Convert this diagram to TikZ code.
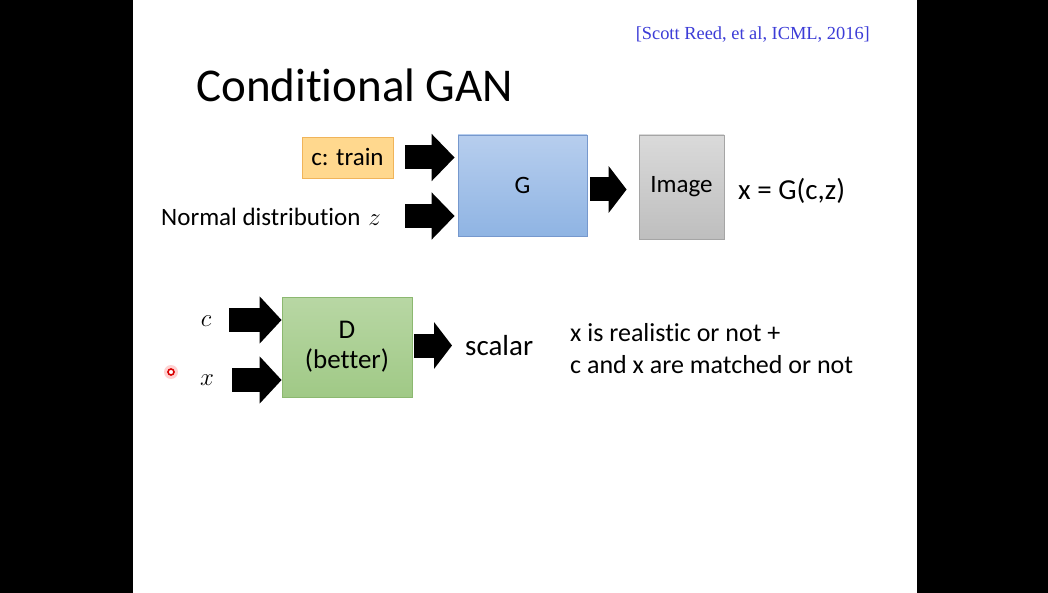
\documentclass[tikz,border=0pt]{standalone}
\usepackage{fontspec}
\setmainfont{Carlito}[Ligatures=NoCommon]
\newfontfamily\citefont{Liberation Serif}
\usetikzlibrary{arrows.meta}
\definecolor{g top}{RGB}{183,206,238}
\definecolor{g bottom}{RGB}{143,180,227}
\definecolor{g edge}{RGB}{118,152,205}
\definecolor{img top}{RGB}{218,218,218}
\definecolor{img bottom}{RGB}{190,190,190}
\definecolor{img edge}{RGB}{165,165,165}
\definecolor{d top}{RGB}{184,215,164}
\definecolor{d bottom}{RGB}{160,201,134}
\definecolor{d edge}{RGB}{140,184,112}
\definecolor{cond fill}{RGB}{255,216,142}
\definecolor{cond edge}{RGB}{240,180,90}
\definecolor{cite blue}{RGB}{60,60,215}
\tikzset{
  fatarrow/.style={line width=24pt, -{Triangle[length=#1, width=46pt]}},
  fatarrow/.default=22pt,
  txt/.style={inner sep=0pt, font=\fontsize{25}{30}\selectfont},
  bigtxt/.style={inner sep=0pt, font=\fontsize{29}{32}\selectfont},
  block/.style={txt, align=center, line width=0.8pt},
  condbox/.style={block, draw=cond edge, fill=cond fill, minimum width=91pt, minimum height=41pt},
  gbox/.style={block, draw=g edge, top color=g top, bottom color=g bottom, minimum width=129pt, minimum height=101pt},
  imgbox/.style={block, draw=img edge, top color=img top, bottom color=img bottom, minimum width=85pt, minimum height=104pt},
  dbox/.style={block, draw=d edge, top color=d top, bottom color=d bottom, minimum width=130pt, minimum height=100pt, font=\fontsize{27}{30}\selectfont}
}

\begin{document}
\begin{tikzpicture}[x=1pt, y=-1pt]
  \useasboundingbox (0,0) rectangle (1048,593);
  \fill[black] (0,0) rectangle (1048,593);
  \fill[white] (133,0) rectangle (917,593);
  % title and reference
  \node[inner sep=0pt, anchor=base west, font=\fontsize{47}{50}\selectfont] (title) at (196,102) {Conditional GAN};
  \node[inner sep=0pt, anchor=base east, text=cite blue, font=\citefont\fontsize{18.4}{20}\selectfont] (cite) at (870,40) {[Scott Reed, et al, ICML, 2016]};
  % generator
  \node[condbox] (ctrain) at (347.5,157.5) {c: train};
  \node[txt, anchor=base west] (normal) at (161,226) {Normal distribution\hspace{8pt}$z$};
  \node[gbox] (G) at (522.5,185.5) {G};
  \node[imgbox] (image) at (681.5,187) {Image};
  \node[bigtxt, anchor=base west] (xeq) at (738,200) {x = G(c,z)};
  \coordinate (zin) at (405,216);
  \draw[fatarrow=23pt, shorten <=12pt, shorten >=3pt] (ctrain.east) -- (ctrain.east -| G.west);
  \draw[fatarrow=23pt, shorten >=3pt] (zin) -- (zin -| G.west);
  \draw[fatarrow=18pt, shorten <=3pt, shorten >=12pt] ([yshift=-4pt]G.east) -- ([yshift=-4pt]G.east -| image.west);
  % discriminator
  \node[bigtxt, anchor=center] (cin) at (206,321) {$c$};
  \node[bigtxt, anchor=center] (xin) at (207,380) {$x$};
  \node[dbox] (D) at (347,347) {\raisebox{-3pt}{D}\\\raisebox{-3pt}{(better)}};
  \node[bigtxt, anchor=base west] (scalar) at (465,355) {scalar};
  \node[inner sep=0pt, anchor=base west, align=left, font=\fontsize{26}{32}\selectfont] (desc) at (570,373) {x is realistic or not +\\c and x are matched or not};
  \coordinate (ctail) at (229,320);
  \coordinate (xtail) at (232,380);
  \draw[fatarrow] (ctail) -- (ctail -| D.west);
  \draw[fatarrow] (xtail) -- (xtail -| D.west);
  \draw[fatarrow=18pt, shorten <=2pt, shorten >=13pt] ([yshift=1.5pt]D.east) -- ([yshift=1.5pt]D.east -| scalar.west);
  % laser pointer
  \fill[red!18] (171,372) circle (7pt);
  \draw[red!85!black, line width=1.6pt, fill=white] (171,372) circle (3pt);
\end{tikzpicture}
\end{document}
